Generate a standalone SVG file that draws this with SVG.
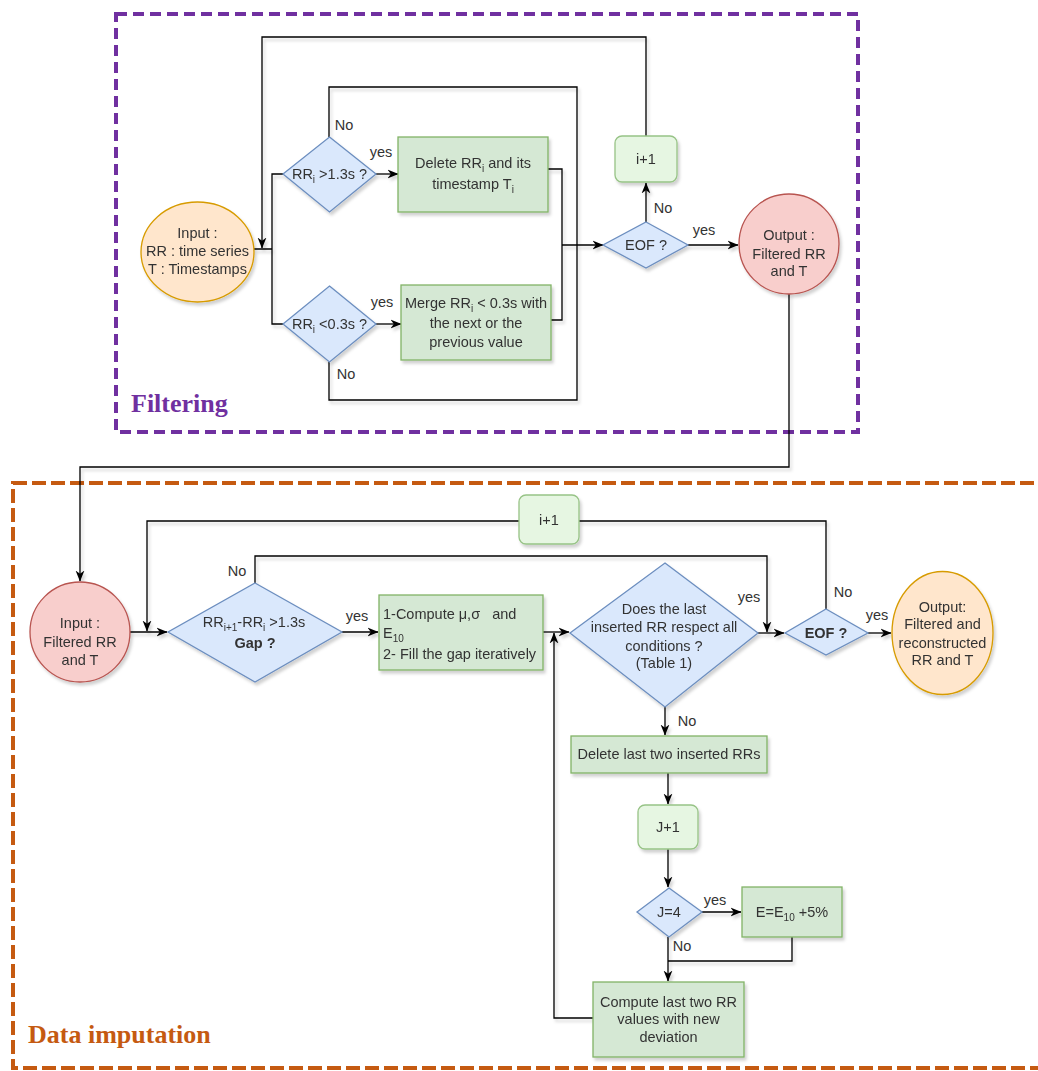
<svg xmlns="http://www.w3.org/2000/svg" width="1038" height="1071" viewBox="0 0 1038 1071">
<defs>
<filter id="sh" filterUnits="userSpaceOnUse" x="0" y="0" width="1038" height="1071">
<feDropShadow dx="2" dy="3" stdDeviation="1.5" flood-color="#000" flood-opacity="0.18"/>
</filter>
<marker id="arr" viewBox="0 0 10 10" refX="9.5" refY="5" markerWidth="11" markerHeight="11" markerUnits="userSpaceOnUse" orient="auto">
<path d="M0,1 L10,5 L0,9 L3,5 z" fill="#000"/>
</marker>
<style>
text{font-family:"Liberation Sans",Arial,sans-serif;font-size:14.5px;fill:#333;text-anchor:middle}
.l{text-anchor:start}
.b{font-weight:bold}
.sub{font-size:10px}
.green{fill:#d5e8d4;stroke:#82b366;stroke-width:1.3}
.lgreen{fill:#e6f6e2;stroke:#97c386;stroke-width:1.3}
.blue{fill:#dae8fc;stroke:#6c8ebf;stroke-width:1.3}
.orange{fill:#ffe6cc;stroke:#d79b00;stroke-width:1.3}
.pink{fill:#f8cecc;stroke:#b85450;stroke-width:1.3}
.edge{fill:none;stroke:#000;stroke-width:1.3}
.ar{marker-end:url(#arr)}
.title{font-family:"Liberation Serif","Times New Roman",serif;font-weight:bold;font-size:26px;text-anchor:start}
</style>
</defs>
<rect width="1038" height="1071" fill="#fff"/>

<g id="containers">
<rect x="116" y="14" width="742" height="418" fill="none" stroke="#7030a0" stroke-width="4" stroke-dasharray="11,6"/>
<text class="title" x="131" y="412" style="fill:#7030a0">Filtering</text>
<rect x="13" y="483" width="1040" height="585" fill="none" stroke="#c55a11" stroke-width="4" stroke-dasharray="14,5"/>
<text class="title" x="28" y="1043" style="fill:#c55a11">Data imputation</text>
</g>

<g id="connectors" filter="url(#sh)">
<path class="edge ar" d="M646,136 V37 H262 V248"/>
<path class="edge" d="M283,174 H272 V324 H283 M254,249 H272"/>
<path class="edge ar" d="M376,174 H398"/>
<path class="edge ar" d="M376,324 H401"/>
<path class="edge" d="M548,169 H562 V320 H551"/>
<path class="edge ar" d="M562,245 H603"/>
<path class="edge" d="M329,137 V87 H577 V400 H329 V362"/>
<path class="edge ar" d="M646,222 V183"/>
<path class="edge ar" d="M688,245 H738"/>
<path class="edge ar" d="M789,294 V467 H80 V581"/>

<path class="edge ar" d="M130,632 H167"/>
<path class="edge" d="M826,609 V521 H579"/>
<path class="edge ar" d="M519,521 H147 V631"/>
<path class="edge ar" d="M255,583 V556 H767 V632"/>
<path class="edge ar" d="M342,632 H378"/>
<path class="edge ar" d="M543,632 H569"/>
<path class="edge ar" d="M758,633 H784"/>
<path class="edge ar" d="M868,633 H891"/>
<path class="edge ar" d="M665,707 V735"/>
<path class="edge ar" d="M668,773 V804"/>
<path class="edge ar" d="M668,849 V887"/>
<path class="edge ar" d="M702,912 H741"/>
<path class="edge" d="M792,937 V961 H668"/>
<path class="edge ar" d="M668,937 V981"/>
<path class="edge ar" d="M593,1018 H554 V633"/>
</g>

<g id="edge-labels">
<text x="344" y="130">No</text>
<text x="381" y="157">yes</text>
<text x="382" y="307">yes</text>
<text x="346" y="379">No</text>
<text x="663" y="213">No</text>
<text x="704" y="235">yes</text>
<text x="237" y="576">No</text>
<text x="357" y="621">yes</text>
<text x="749" y="602">yes</text>
<text x="843" y="597">No</text>
<text x="877" y="620">yes</text>
<text x="687" y="726">No</text>
<text x="715" y="905">yes</text>
<text x="682" y="951">No</text>
</g>

<g id="n-input1" filter="url(#sh)">
<ellipse class="orange" cx="197.5" cy="252" rx="56.5" ry="50"/>
<text x="197.5" y="238">Input :</text>
<text x="197.5" y="256">RR : time series</text>
<text x="197.5" y="274">T : Timestamps</text>
</g>

<g id="n-dec1" filter="url(#sh)">
<polygon class="blue" points="329.5,137 376,174 329.5,212 283,174"/>
<text x="329.5" y="179">RR<tspan class="sub" dy="4">i</tspan><tspan dy="-4"> &gt;1.3s ?</tspan></text>
</g>

<g id="n-dec2" filter="url(#sh)">
<polygon class="blue" points="329.5,286 376,324 329.5,362 283,324"/>
<text x="329.5" y="329">RR<tspan class="sub" dy="4">i</tspan><tspan dy="-4"> &lt;0.3s ?</tspan></text>
</g>

<g id="n-delete" filter="url(#sh)">
<rect class="green" x="398" y="137" width="150" height="75"/>
<text x="473" y="168">Delete RR<tspan class="sub" dy="4">i</tspan><tspan dy="-4"> and its</tspan></text>
<text x="473" y="189">timestamp T<tspan class="sub" dy="4">i</tspan></text>
</g>

<g id="n-merge" filter="url(#sh)">
<rect class="green" x="401" y="285" width="150" height="75"/>
<text x="476" y="308">Merge RR<tspan class="sub" dy="4">i</tspan><tspan dy="-4"> &lt; 0.3s with</tspan></text>
<text x="476" y="328">the next or the</text>
<text x="476" y="347">previous value</text>
</g>

<g id="n-eof1" filter="url(#sh)">
<polygon class="blue" points="646,222 688,245 646,268 603,245"/>
<text x="646" y="250">EOF ?</text>
</g>

<g id="n-inc1" filter="url(#sh)">
<rect class="lgreen" x="615" y="136" width="62" height="46" rx="7"/>
<text x="646" y="164">i+1</text>
</g>

<g id="n-output1" filter="url(#sh)">
<circle class="pink" cx="789" cy="244" r="50"/>
<text x="789" y="240">Output :</text>
<text x="789" y="259">Filtered RR</text>
<text x="789" y="276">and T</text>
</g>

<g id="n-input2" filter="url(#sh)">
<circle class="pink" cx="80" cy="632" r="50"/>
<text x="80" y="628">Input :</text>
<text x="80" y="647">Filtered RR</text>
<text x="80" y="665">and T</text>
</g>

<g id="n-gap" filter="url(#sh)">
<polygon class="blue" points="255,583 342,632 255,682 168,632"/>
<text x="254" y="627">RR<tspan class="sub" dy="4">i+1</tspan><tspan dy="-4">-RR</tspan><tspan class="sub" dy="4">i</tspan><tspan dy="-4"> &gt;1.3s</tspan></text>
<text class="b" x="255" y="648">Gap ?</text>
</g>

<g id="n-compute" filter="url(#sh)">
<rect class="green" x="379" y="595" width="164" height="75"/>
<text class="l" x="383" y="619">1-Compute μ,σ&#160;&#160; and</text>
<text class="l" x="383" y="638">E<tspan class="sub" dy="4">10</tspan></text>
<text class="l" x="383" y="659">2- Fill the gap iteratively</text>
</g>

<g id="n-check" filter="url(#sh)">
<polygon class="blue" points="665,563 758,633 665,707 570,633"/>
<text x="664" y="614">Does the last</text>
<text x="664" y="632">inserted RR respect all</text>
<text x="664" y="651">conditions ?</text>
<text x="664" y="668">(Table 1)</text>
</g>

<g id="n-inc2" filter="url(#sh)">
<rect class="lgreen" x="519" y="495" width="60" height="49" rx="7"/>
<text x="549" y="525">i+1</text>
</g>

<g id="n-eof2" filter="url(#sh)">
<polygon class="blue" points="826,609 868,633 826,655 785,633"/>
<text class="b" x="826" y="638">EOF ?</text>
</g>

<g id="n-output2" filter="url(#sh)">
<ellipse class="orange" cx="942.5" cy="633" rx="50.5" ry="61.5"/>
<text x="942.5" y="612">Output:</text>
<text x="942.5" y="629">Filtered and</text>
<text x="942.5" y="648">reconstructed</text>
<text x="942.5" y="665">RR and T</text>
</g>

<g id="n-deletelast" filter="url(#sh)">
<rect class="green" x="571" y="736" width="196" height="37"/>
<text x="669" y="759">Delete last two inserted RRs</text>
</g>

<g id="n-j1" filter="url(#sh)">
<rect class="lgreen" x="638" y="805" width="60" height="44" rx="7"/>
<text x="668" y="832">J+1</text>
</g>

<g id="n-j4" filter="url(#sh)">
<polygon class="blue" points="669,888 702,912 669,937 637,912"/>
<text x="669" y="917">J=4</text>
</g>

<g id="n-e" filter="url(#sh)">
<rect class="green" x="742" y="887" width="100" height="50"/>
<text x="792" y="917">E=E<tspan class="sub" dy="4">10</tspan><tspan dy="-4"> +5%</tspan></text>
</g>

<g id="n-computelast" filter="url(#sh)">
<rect class="green" x="593" y="982" width="151" height="75"/>
<text x="668.5" y="1007">Compute last two RR</text>
<text x="668.5" y="1024">values with new</text>
<text x="668.5" y="1042">deviation</text>
</g>
</svg>
